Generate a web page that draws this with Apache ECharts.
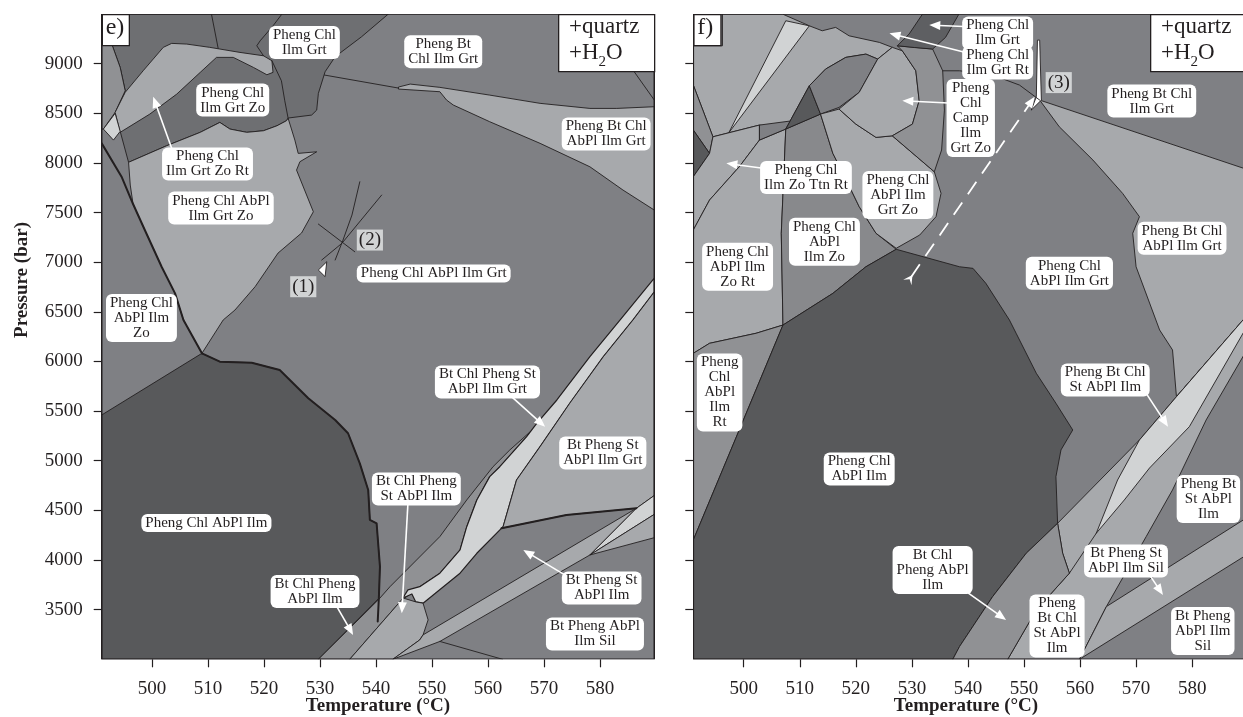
<!DOCTYPE html>
<html>
<head>
<meta charset="utf-8">
<script src="https://cdn.jsdelivr.net/npm/echarts@6/dist/echarts.min.js"></script>
<style>
  html, body { margin: 0; background: #fff; }
  #chart { width: 1243px; height: 717px; }
</style>
</head>
<body>
<div id="chart"></div>
<script>
// axis ticks
const tempTicks = [500, 510, 520, 530, 540, 550, 560, 570, 580];
const pressureTicks = [3500, 4000, 4500, 5000, 5500, 6000, 6500, 7000, 7500, 8000, 8500, 9000];

// ---------- panel e) fields, points are [T (°C), P (bar)]
const eUpperChlGrt = [[491,9500],[542.2,9500],[537.4,9270],[532.7,9070],[530.9,8918],[529.7,8700],[529.4,8532],[528.5,8482],[524.3,8452],[524.0,8425],[522.3,8374],[519.9,8324],[516.9,8308],[513.9,8341],[512.1,8408],[508.6,8308],[502.6,8173],[495.8,8006],[494.3,8318],[495.2,8727],[494.3,8962],[492.8,9197],[491,9197]];
const eLeftStrip = [[491,9197],[492.8,9197],[494.3,8962],[495.2,8727],[493.4,8509],[491.3,8341],[491,8341]];
const eZoRtBand = [[493.4,8509],[495.2,8711],[498.4,8928],[502.0,9164],[503.5,9204],[506.2,9197],[510.3,9164],[515.7,9113],[519.9,9079],[521.4,9029],[521.6,8912],[520.5,8888],[518.1,8962],[514.5,9063],[511.5,9063],[508.6,8912],[504.4,8693],[499.6,8492],[494.3,8308]];
const eRtDiamond = [[491.3,8341],[493.4,8499],[494.3,8318],[493.1,8230]];
const eZoField = [[495.8,8006],[502.6,8173],[508.6,8308],[512.1,8408],[513.9,8341],[516.9,8308],[519.9,8324],[522.3,8374],[524.0,8425],[524.3,8449],[525.5,8230],[526.1,8096],[529.4,8112],[526.4,8012],[525.8,7928],[528.8,7508],[526.7,7294],[522.5,7092],[518.4,6753],[514.8,6518],[512.7,6418],[508.9,6082],[505.6,6418],[504.1,6686],[501.7,6954],[498.7,7324],[496.6,7586],[496.1,7777]];
const eDarkChl = [[491,5461],[508.9,6082],[512.1,5998],[517.8,5988],[522.8,5914],[527.9,5629],[532.7,5411],[535.0,5277],[537.1,4974],[538.6,4706],[538.9,4404],[540.1,4370],[540.7,3933],[540.5,3615],[529.7,3000],[491,3000]];
const eBtChlStrip = [[567.5,5290],[563.9,5109],[560.9,4940],[556.2,4605],[551.4,4236],[542.5,3732],[540.4,3598],[529.7,3000],[535.3,3000],[544.3,3581],[547.8,3732],[551.4,3867],[555.0,4102],[556.2,4336],[558.0,4605],[560.3,4840],[562.1,4940],[566.9,5242]];
const eGrtStBand = [[589.7,6840],[583.6,6418],[578.2,6048],[572.3,5612],[568.7,5377],[566.9,5242],[562.1,4940],[560.3,4840],[558.0,4605],[556.2,4336],[555.0,4102],[551.4,3867],[547.8,3732],[545.7,3699],[544.8,3618],[546.4,3658],[547.1,3578],[548.4,3565],[555.0,3867],[558.0,4068],[562.7,4336],[565.1,4806],[569.3,5142],[574.6,5579],[580.6,6048],[585.9,6418],[589.7,6700]];
const eStLow = [[535.3,3000],[544.3,3581],[544.8,3618],[547.1,3578],[548.4,3565],[549.3,3397],[548.4,3246],[547.8,3195],[543.0,3000]];
const eGrtField = [[589.7,6700],[585.9,6418],[580.6,6048],[574.6,5579],[569.3,5142],[565.1,4806],[562.7,4336],[562.4,4320],[574.0,4454],[586.5,4521],[589.7,4650]];
const eStStrip = [[543.0,3000],[547.8,3195],[548.4,3246],[586.5,4521],[578.2,4051],[551.4,3180]];
const eSilSliver = [[578.2,4051],[586.5,4521],[589.7,4650],[589.7,4460]];
const eSilWedge = [[578.2,4051],[589.7,4460],[589.7,4225]];
const eBtWedge = [[544.0,8764],[546.1,8794],[551.4,8761],[560.3,8683],[569.3,8600],[578.2,8549],[583.0,8549],[589.7,8566],[589.7,7525],[584.1,7727],[578.2,7961],[569.3,8197],[560.3,8415],[553.8,8583],[552.6,8633],[551.4,8717],[544.0,8744]];
const ePoint1 = [[529.7,6921],[531.2,7005],[530.9,6854]];
const eThinLines = [
  [[510.6,9500],[511.8,9154]],
  [[523.2,9500],[521.6,9381],[519.3,9230],[518.7,9180],[519.9,9079]],
  [[521.4,9029],[523.1,8827],[523.7,8626],[524.3,8449]],
  [[530.8,8885],[544.0,8754]],
  [[585.9,8935],[589.7,8633]],
  [[537.1,7810],[535.7,7475],[534.1,7223],[532.7,7022]],
  [[541.0,7676],[533.9,7190],[530.3,7022]],
  [[529.7,7384],[536.2,7105]],
  [[551.4,3180],[562.6,3000]]
];
const eThickLines = [
  [[491,8197],[494.6,7855],[496.6,7586],[498.7,7324],[501.7,6954],[504.1,6686],[505.6,6418],[508.9,6082]],
  [[508.9,6082],[512.1,5998],[517.8,5988],[522.8,5914],[527.9,5629],[532.7,5411],[535.0,5277],[537.1,4974],[538.6,4706],[538.9,4404],[540.1,4370],[540.7,3933],[540.5,3615],[540.3,3380]],
  [[562.4,4320],[574.0,4454],[586.5,4521]]
];

// ---------- panel f) fields
const fTopLeft = [[491,8784],[491,9180],[496.2,9180],[496.2,9500],[506.9,9500],[511.7,9381],[514.0,9331],[516.4,9365],[518.8,9280],[524.2,9214],[526.5,9164],[523.9,9046],[521.8,9096],[518.2,9063],[514.6,8945],[511.7,8777],[507.5,8341],[502.8,8381],[494.5,8263],[492.7,8532]];
const fWedge = [[507.5,9432],[511.7,9381],[497.3,8301]];
const fLeftStrip = [[491,8784],[492.7,8532],[494.5,8263],[493.9,8096],[491,8331]];
const fLeftDark = [[491,8331],[493.9,8096],[491,7861]];
const fTtnField = [[491,7324],[491,7861],[493.9,8096],[494.5,8263],[502.8,8381],[502.8,8230],[499.2,7961],[493.9,7626]];
const fZoRtField = [[491,6082],[493.9,6183],[502.2,6284],[507.0,6367],[506.7,7291],[507.5,8341],[502.8,8230],[499.2,7961],[493.9,7626],[491,7324]];
const fQuad = [[502.8,8381],[508.3,8422],[507.5,8341],[502.8,8230]];
const fRtField = [[491,4202],[499.2,5310],[507.0,6367],[502.2,6284],[493.9,6183],[491,6082]];
const fZoField = [[507.0,6367],[506.7,7291],[507.5,8341],[513.7,8492],[515.9,8096],[518.3,7827],[520.6,7559],[523.6,7291],[527.2,7130],[521.8,6954],[515.9,6686]];
const fTriangle = [[507.5,8341],[511.7,8777],[513.7,8492]];
const fLens = [[511.7,8777],[514.6,8945],[518.2,9063],[521.8,9096],[523.9,9046],[520.6,8711],[517.0,8559],[513.7,8492]];
const fGrtZoField = [[513.7,8492],[517.0,8542],[520.0,8391],[523.6,8257],[526.5,8273],[534.0,7911],[535.2,7694],[534.3,7458],[531.4,7274],[527.2,7140],[523.6,7291],[520.6,7559],[518.3,7827],[515.9,8096]];
const fCampField = [[517.0,8542],[520.0,8391],[523.6,8257],[526.5,8273],[530.1,8391],[531.3,8626],[530.7,8928],[528.3,9129],[526.5,9164],[523.9,9046],[520.6,8711]];
const fRightOfCamp = [[527.4,9180],[533.7,9147],[535.5,8928],[535.8,8532],[535.3,8130],[534.0,7911],[526.5,8273],[530.1,8391],[531.3,8626],[530.7,8928],[528.3,9129]];
const fIlmGrtBand = [[531.9,9500],[538.4,9500],[536.0,9264],[533.7,9147],[530.5,9162],[527.4,9180],[529.5,9298]];
const fDarkChl = [[491,4202],[499.2,5310],[507.0,6367],[515.9,6686],[521.8,6954],[527.2,7130],[538.5,6954],[540.9,6938],[543.2,6787],[547.4,6418],[548.6,6284],[552.2,5881],[555.7,5579],[558.7,5310],[556.6,5109],[555.7,4840],[556.0,4370],[550.4,4068],[544.4,3631],[538.5,3128],[537.3,3000],[491,3000]];
const fBtGrtField = [[552.8,8633],[589.7,7936],[589.7,6458],[577.2,5645],[576.5,6116],[574.2,6317],[570.0,6954],[569.4,7291],[570.6,7458],[567.6,7693],[562.3,8029],[556.3,8364]];
const fStStrip = [[547.1,3000],[552.2,3497],[558.1,3867],[556.9,4068],[556.0,4370],[570.6,5209],[577.2,5645],[589.7,6458],[589.7,6110],[582.5,5411],[576.5,4706],[571.8,4236],[564.7,3531],[559.9,3000]];
const fStBand = [[589.7,6458],[577.2,5645],[570.6,5209],[566.7,4806],[562.9,4270],[567.9,4605],[572.4,4927],[579.5,5343],[589.7,6345]];
const fBtChlStrip = [[537.3,3000],[538.5,3128],[544.4,3631],[550.4,4068],[556.0,4370],[556.9,4068],[558.1,3867],[552.2,3497],[547.1,3000]];
const fSilStrip = [[559.9,3000],[564.7,3531],[589.7,4424],[589.7,4051]];
const fPoint3 = [[552.4,9237],[552.8,9237],[553.1,8633],[551.3,8532],[552.2,8666]];
const fThinLines = [
  [[535.5,8928],[538.5,8928],[544.4,8885],[549.2,8784],[552.8,8633]],
  [[558.1,3867],[562.9,4270]]
];

// ---------- field labels [T, P, text]
const eLabels = [
  [527.2, 9212, 'Pheng Chl\nIlm Grt'],
  [552.0, 9121, 'Pheng Bt\nChl Ilm Grt'],
  [514.4, 8633, 'Pheng Chl\nIlm Grt Zo'],
  [509.9, 7989, 'Pheng Chl\nIlm Grt Zo Rt'],
  [512.3, 7545, 'Pheng Chl AbPl\nIlm Grt Zo'],
  [581.1, 8291, 'Pheng Bt Chl\nAbPl Ilm Grt'],
  [550.3, 6886, 'Pheng Chl AbPl Ilm Grt'],
  [498.1, 6438, 'Pheng Chl\nAbPl Ilm\nZo'],
  [559.9, 5793, 'Bt Chl Pheng St\nAbPl Ilm Grt'],
  [580.5, 5078, 'Bt Pheng St\nAbPl Ilm Grt'],
  [547.2, 4716, 'Bt Chl Pheng\nSt AbPl Ilm'],
  [509.7, 4373, 'Pheng Chl AbPl Ilm'],
  [580.3, 3719, 'Bt Pheng St\nAbPl Ilm'],
  [529.1, 3682, 'Bt Chl Pheng\nAbPl Ilm'],
  [579.1, 3256, 'Bt Pheng AbPl\nIlm Sil']
];
const fLabels = [
  [545.3, 9308, 'Pheng Chl\nIlm Grt'],
  [545.3, 9006, 'Pheng Chl\nIlm Grt Rt'],
  [540.5, 8452, 'Pheng\nChl\nCamp\nIlm\nGrt Zo'],
  [572.8, 8623, 'Pheng Bt Chl\nIlm Grt'],
  [511.1, 7853, 'Pheng Chl\nIlm Zo Ttn Rt'],
  [527.5, 7676, 'Pheng Chl\nAbPl Ilm\nGrt Zo'],
  [514.4, 7206, 'Pheng Chl\nAbPl\nIlm Zo'],
  [498.9, 6954, 'Pheng Chl\nAbPl Ilm\nZo Rt'],
  [495.7, 5688, 'Pheng\nChl\nAbPl\nIlm\nRt'],
  [520.6, 4917, 'Pheng Chl\nAbPl Ilm'],
  [533.7, 3900, 'Bt Chl\nPheng AbPl\nIlm'],
  [558.1, 6888, 'Pheng Chl\nAbPl Ilm Grt'],
  [578.2, 7240, 'Pheng Bt Chl\nAbPl Ilm Grt'],
  [564.5, 5813, 'Pheng Bt Chl\nSt AbPl Ilm'],
  [582.9, 4615, 'Pheng Bt\nSt AbPl\nIlm'],
  [568.2, 3991, 'Bt Pheng St\nAbPl Ilm Sil'],
  [555.9, 3336, 'Pheng\nBt Chl\nSt AbPl\nIlm'],
  [581.9, 3286, 'Bt Pheng\nAbPl Ilm\nSil']
];
const eMarkers = [[538.9, 7223, '(2)'], [527.0, 6753, '(1)']];
const fMarkers = [[556.2, 8809, '(3)']];

// ---------- label arrows [from, to]
const eArrows = [
  [[503.5,8147],[500.2,8666]],
  [[564.2,5645],[570.2,5343]],
  [[545.7,4575],[544.6,3464]],
  [[573.7,3850],[566.3,4101]],
  [[533.0,3531],[535.9,3246]]
];
const fArrows = [
  [[540.3,9371],[533.1,9388]],
  [[540.3,9103],[526.0,9305]],
  [[536.5,8603],[528.3,8626]],
  [[503.1,7948],[496.9,7996]],
  [[571.8,5679],[575.7,5343]],
  [[572.4,3850],[574.8,3648]],
  [[539.7,3682],[546.8,3397]]
];
const fPath = [[529.9,6854],[551.9,8666]];

// ---------- styling
const INK = '#231f20';
const FONT = 'Liberation Serif';
const G = {
  dark: '#58595b', band: '#5e5f62', deep: '#6e6f72', mid: '#7f8084', zo: '#88898c',
  soft: '#909194', light: '#a7a9ac', pale: '#d1d3d4', white: '#ffffff'
};
const T_MIN = 491, T_MAX = 589.7, P_MIN = 3000, P_MAX = 9500;
const frame = [[T_MIN,P_MIN],[T_MAX,P_MIN],[T_MAX,P_MAX],[T_MIN,P_MAX]];

const f = (pts, fill, w) => ({ pts, fill, w: w || 0.9 });
const s = (pts, w) => ({ pts, fill: null, w: w || 0.9 });

const eLayers = [
  f(eUpperChlGrt, G.deep), f(eLeftStrip, G.soft), f(eZoRtBand, G.light), f(eRtDiamond, G.pale),
  f(eZoField, G.light), f(eDarkChl, G.dark), f(eBtChlStrip, G.soft), f(eGrtStBand, G.pale, 1.2),
  f(eStLow, G.light), f(eGrtField, G.light), f(eStStrip, G.light), f(eSilSliver, G.pale),
  f(eSilWedge, G.light), f(eBtWedge, G.light), f(ePoint1, G.white)
].concat(eThinLines.map(l => s(l)), eThickLines.map(l => s(l, 2)), [f(frame, 'none', 1.6)]);

const fLayers = [
  f(fTopLeft, G.light), f(fWedge, G.pale), f(fLeftStrip, G.soft), f(fLeftDark, G.dark),
  f(fTtnField, G.light), f(fZoRtField, G.light), f(fQuad, G.mid), f(fRtField, G.soft),
  f(fZoField, G.zo), f(fTriangle, G.dark), f(fLens, G.mid), f(fGrtZoField, G.light),
  f(fCampField, G.light), f(fRightOfCamp, G.soft), f(fIlmGrtBand, G.band), f(fDarkChl, G.dark),
  f(fBtGrtField, G.light), f(fStStrip, G.light), f(fStBand, G.pale), f(fBtChlStrip, G.soft),
  f(fSilStrip, G.light), f(fPoint3, G.white)
].concat(fThinLines.map(l => s(l)), [f(frame, 'none', 1.6)]);

function fieldSeries(layers, idx) {
  return {
    type: 'custom', xAxisIndex: idx, yAxisIndex: idx, clip: true, z: 2, silent: true,
    data: layers.map(l => l.pts[0]),
    renderItem: (params, api) => {
      const l = layers[params.dataIndex];
      const pts = l.pts.map(p => api.coord(p));
      if (l.fill) {
        return { type: 'polygon', shape: { points: pts },
          style: { fill: l.fill, stroke: INK, lineWidth: l.w, lineJoin: 'round' } };
      }
      return { type: 'polyline', shape: { points: pts },
        style: { fill: null, stroke: INK, lineWidth: l.w, lineJoin: 'round', lineCap: 'round' } };
    }
  };
}

function head(p, u, len, half) {
  const b = [p[0] - u[0] * len, p[1] - u[1] * len];
  return [p, [b[0] - u[1] * half, b[1] + u[0] * half], [b[0] + u[1] * half, b[1] - u[0] * half]];
}

function arrowSeries(list, idx) {
  return {
    type: 'custom', xAxisIndex: idx, yAxisIndex: idx, clip: false, z: 4, silent: true,
    data: list.map(a => a[1]),
    renderItem: (params, api) => {
      const a = list[params.dataIndex];
      const p0 = api.coord(a[0]), p1 = api.coord(a[1]);
      const dx = p1[0] - p0[0], dy = p1[1] - p0[1], L = Math.hypot(dx, dy);
      const u = [dx / L, dy / L];
      const b = [p1[0] - u[0] * 10, p1[1] - u[1] * 10];
      return { type: 'group', children: [
        { type: 'line', shape: { x1: p0[0], y1: p0[1], x2: b[0], y2: b[1] }, style: { stroke: '#fff', lineWidth: 1.6 } },
        { type: 'polygon', shape: { points: head(p1, u, 11, 4.5) }, style: { fill: '#fff' } }
      ] };
    }
  };
}

function pathSeries(idx) {
  return {
    type: 'custom', xAxisIndex: idx, yAxisIndex: idx, clip: false, z: 4, silent: true,
    data: [fPath[1]],
    renderItem: (params, api) => {
      const p0 = api.coord(fPath[0]), p1 = api.coord(fPath[1]);
      const dx = p1[0] - p0[0], dy = p1[1] - p0[1], L = Math.hypot(dx, dy);
      const u = [dx / L, dy / L];
      const b = [p1[0] - u[0] * 10, p1[1] - u[1] * 10];
      const t0 = [p0[0] + u[0] * 2, p0[1] + u[1] * 2];
      const tail = [t0, [p0[0] - u[0] * 7 - u[1] * 5, p0[1] - u[1] * 7 + u[0] * 5],
        [p0[0] - u[0] * 3, p0[1] - u[1] * 3], [p0[0] - u[0] * 7 + u[1] * 5, p0[1] - u[1] * 7 - u[0] * 5]];
      return { type: 'group', children: [
        { type: 'line', shape: { x1: p0[0], y1: p0[1], x2: b[0], y2: b[1] },
          style: { stroke: '#fff', lineWidth: 1.8, lineDash: [15, 10] } },
        { type: 'polygon', shape: { points: head(p1, u, 11, 4.5) }, style: { fill: '#fff' } },
        { type: 'polygon', shape: { points: tail }, style: { fill: '#fff' } }
      ] };
    }
  };
}

function labelSeries(list, idx) {
  return {
    type: 'scatter', xAxisIndex: idx, yAxisIndex: idx, symbolSize: 0, z: 6, silent: true,
    itemStyle: { opacity: 1 },
    data: list.map(l => ({ value: [l[0], l[1]], t: l[2] })),
    label: {
      show: true, position: 'inside', formatter: p => p.data.t, opacity: 1,
      backgroundColor: '#ffffff', borderRadius: 6, padding: [2, 4, 1, 4],
      fontFamily: FONT, fontSize: 15, lineHeight: 15, color: INK, align: 'center'
    }
  };
}

function markerSeries(list, idx) {
  return {
    type: 'scatter', xAxisIndex: idx, yAxisIndex: idx, symbolSize: 0, z: 6, silent: true,
    itemStyle: { opacity: 1 },
    data: list.map(l => ({ value: [l[0], l[1]], t: l[2] })),
    label: {
      show: true, position: 'inside', formatter: p => p.data.t, opacity: 1,
      backgroundColor: G.pale, padding: [1, 2, 0, 2],
      fontFamily: FONT, fontSize: 19, lineHeight: 20, color: INK
    }
  };
}

function xAxis(idx) {
  return {
    type: 'value', gridIndex: idx, min: T_MIN, max: T_MAX,
    axisLine: { show: false }, splitLine: { show: false },
    axisTick: { show: true, inside: false, length: 8, customValues: tempTicks, lineStyle: { color: INK, width: 1.2 } },
    axisLabel: { show: true, margin: 20, customValues: tempTicks, formatter: v => String(v),
      fontFamily: FONT, fontSize: 19, color: INK }
  };
}
function yAxis(idx, labels) {
  return {
    type: 'value', gridIndex: idx, min: P_MIN, max: P_MAX,
    axisLine: { show: false }, splitLine: { show: false },
    axisTick: { show: true, inside: false, length: 8, customValues: pressureTicks, lineStyle: { color: INK, width: 1.2 } },
    axisLabel: { show: labels, margin: 19, customValues: pressureTicks, formatter: v => String(v),
      fontFamily: FONT, fontSize: 19, color: INK }
  };
}

function cornerBox(x, txt) {
  return [
    { type: 'rect', left: x, top: 14, z: 20, shape: { width: 27, height: 31 },
      style: { fill: '#fff', stroke: INK, lineWidth: 1.3 } },
    { type: 'text', left: x + 4, top: 16, z: 21,
      style: { text: txt, fontFamily: FONT, fontSize: 24, fill: INK } }
  ];
}
function phaseBox(x) {
  return [
    { type: 'rect', left: x, top: 14, z: 20, shape: { width: 96, height: 57 },
      style: { fill: '#fff', stroke: INK, lineWidth: 1.3 } },
    { type: 'text', left: x + 11, top: 15, z: 21,
      style: { text: '+quartz', fontFamily: FONT, fontSize: 23, fill: INK } },
    { type: 'text', left: x + 11, top: 41, z: 21,
      style: { text: '{n|+H}{s|2}{n|O}', fill: INK,
        rich: { n: { fontFamily: FONT, fontSize: 23, lineHeight: 26, fill: INK },
                s: { fontFamily: FONT, fontSize: 15, lineHeight: 15, verticalAlign: 'bottom', fill: INK, padding: [0, 0, -4, 0] } } } }
  ];
}

const chart = echarts.init(document.getElementById('chart'), null, { renderer: 'canvas' });
chart.setOption({
  animation: false,
  backgroundColor: '#fff',
  textStyle: { fontFamily: FONT },
  grid: [
    { left: 101.7, top: 14, width: 552.6, height: 645.3, show: true, backgroundColor: G.mid, borderWidth: 0, outerBoundsMode: 'none', containLabel: false },
    { left: 693.3, top: 14, width: 553.2, height: 645.3, show: true, backgroundColor: G.mid, borderWidth: 0, outerBoundsMode: 'none', containLabel: false }
  ],
  xAxis: [xAxis(0), xAxis(1)],
  yAxis: [yAxis(0, true), yAxis(1, false)],
  series: [
    fieldSeries(eLayers, 0), fieldSeries(fLayers, 1),
    arrowSeries(eArrows, 0), arrowSeries(fArrows, 1), pathSeries(1),
    labelSeries(eLabels, 0), labelSeries(fLabels, 1),
    markerSeries(eMarkers, 0), markerSeries(fMarkers, 1)
  ],
  graphic: [].concat(
    cornerBox(101.7, 'e)'), cornerBox(693.3, 'f)'),
    phaseBox(558), phaseBox(1150),
    [
      { type: 'text', x: 22, y: 280, rotation: Math.PI / 2, z: 20,
        style: { text: 'Pressure (bar)', fontFamily: FONT, fontSize: 19, fontWeight: 'bold', fill: INK, align: 'center', verticalAlign: 'middle' } },
      { type: 'text', x: 378, y: 706, z: 20,
        style: { text: 'Temperature (°C)', fontFamily: FONT, fontSize: 19, fontWeight: 'bold', fill: INK, align: 'center', verticalAlign: 'middle' } },
      { type: 'text', x: 966, y: 706, z: 20,
        style: { text: 'Temperature (°C)', fontFamily: FONT, fontSize: 19, fontWeight: 'bold', fill: INK, align: 'center', verticalAlign: 'middle' } }
    ]
  )
});
</script>
</body>
</html>
